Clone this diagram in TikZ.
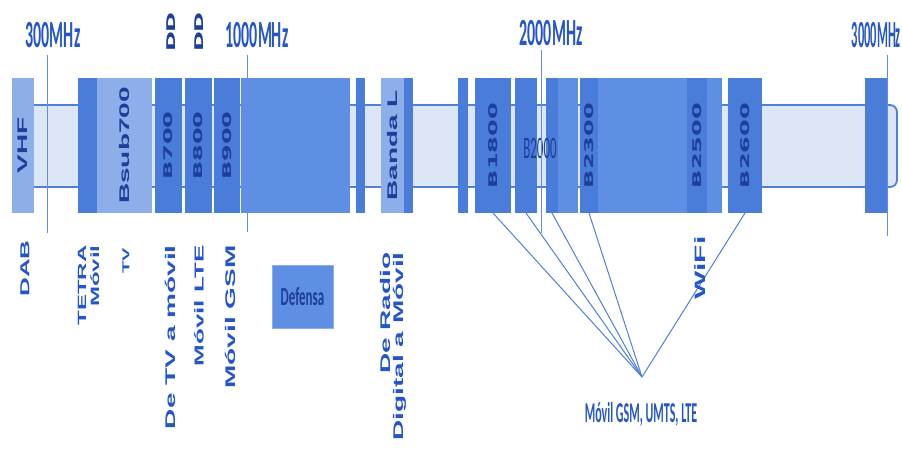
\documentclass[tikz,border=0pt]{standalone}
\usepackage{fontspec}
\setmainfont{Liberation Sans}
\newfontfamily\calibrifont{Carlito}
\newfontfamily\dejavufont{DejaVu Sans}
\usetikzlibrary{positioning}

\definecolor{banddark}{HTML}{4A7DD9}
\definecolor{bandmid}{HTML}{5F8FE2}
\definecolor{bandlight}{HTML}{8EAEEA}
\definecolor{tubefill}{HTML}{DCE6F7}
\definecolor{tubeline}{HTML}{4F80DB}
\definecolor{navy}{HTML}{1E3F99}
\definecolor{labelblue}{HTML}{2456C8}

\begin{document}
\begin{tikzpicture}[x=1pt, y=-1pt]

\tikzstyle{tube} = [rectangle, rounded corners=7pt, draw=tubeline, line width=1.8pt, fill=tubefill, minimum width=872pt, minimum height=82pt, inner sep=0]
\tikzstyle{band} = [rectangle, inner sep=0, outer sep=0, minimum height=135pt, fill=banddark]
\tikzstyle{freq} = [font=\calibrifont\bfseries\fontsize{16}{16}\selectfont, text=labelblue, yscale=2.4, inner sep=0]
\tikzstyle{inband} = [font=\dejavufont\bfseries\fontsize{12}{12}\selectfont, text=navy, rotate=90, xscale=2, inner sep=0]
\tikzstyle{inbandwide} = [font=\bfseries\fontsize{14}{14}\selectfont, text=navy, rotate=90, xscale=2, inner sep=0]
\tikzstyle{service} = [font=\bfseries\fontsize{14}{13}\selectfont, text=labelblue, rotate=90, xscale=2, inner sep=0, anchor=east, align=right]
\tikzstyle{marker} = [draw=bandmid, line width=0.8pt]
\tikzstyle{link} = [draw=tubeline, line width=1pt]

\useasboundingbox (0,0) rectangle (902,452);
\fill[white] (0,0) rectangle (902,452);

% spectrum bar
\node [tube] (spectrum) at (461,146) {};

% bands
\node [band, fill=bandlight, minimum width=22pt] (vhf) at (23,145.5) {};
\node [band, minimum width=19pt, right=44pt of vhf] (tetra) {};
\node [band, fill=bandlight, minimum width=55pt, right=0pt of tetra] (bsub) {};
\node [band, minimum width=27pt, right=3pt of bsub] (b700) {};
\node [band, minimum width=27pt, right=3pt of b700] (b800) {};
\node [band, minimum width=26pt, right=2pt of b800] (b900) {};
\node [band, fill=bandmid, minimum width=109pt, right=1pt of b900] (defband) {};
\node [band, minimum width=9pt, right=6pt of defband] (slot1) {};
\node [band, fill=bandlight, minimum width=23pt, right=16pt of slot1] (bandal) {};
\node [band, minimum width=9pt, right=0pt of bandal] (slot2) {};
\node [band, minimum width=10pt, right=45pt of slot2] (slot3) {};
\node [band, minimum width=36pt, right=7pt of slot3] (b1800) {};
\node [band, minimum width=22pt, right=4pt of b1800] (b2000) {};
\node [band, minimum width=12pt, right=9pt of b2000] (b2100) {};
\node [band, fill=bandmid, minimum width=20pt, right=0pt of b2100] (b2100up) {};
\node [band, minimum width=18pt, right=2pt of b2100up] (b2300) {};
\node [band, fill=bandmid, minimum width=89pt, right=0pt of b2300] (b2400) {};
\node [band, minimum width=20pt, right=0pt of b2400] (b2500) {};
\node [band, fill=bandmid, minimum width=15pt, right=0pt of b2500] (b2500up) {};
\node [band, minimum width=34pt, right=6pt of b2500up] (b2600) {};
\node [band, minimum width=22pt, right=103pt of b2600] (b3000) {};

% band names
\node [inbandwide] (vhftext) at (vhf) {VHF};
\node [inbandwide] (bsubtext) at (bsub) {Bsub700};
\node [inband] (b700text) at (b700) {B700};
\node [inband] (b800text) at (b800) {B800};
\node [inband] (b900text) at (b900) {B900};
\node [inbandwide] (bandaltext) at (bandal) {Banda L};
\node [inband] (b1800text) at (b1800) {B1800};
\node [font=\calibrifont\fontsize{13}{13}\selectfont, text=navy, yscale=2.4, inner sep=0] (b2000text) at (540,148) {B2000};
\node [inband] (b2300text) at (b2300) {B2300};
\node [inband] (b2500text) at (b2500) {B2500};
\node [inband] (b2600text) at (b2600) {B2600};
\node [inband] (dd1) at (171,32) {DD};
\node [inband] (dd2) at (199,32) {DD};

% frequencies
\node [freq] (f300) at (53,35) {300MHz};
\node [freq] (f1000) at (257,35) {1000MHz};
\node [freq] (f2000) at (551,33) {2000MHz};
\node [freq, anchor=east, xscale=0.78] (f3000) at (901,35) {3000MHz};

\coordinate (m300a) at (47,55);
\coordinate (m300b) at (47,233);
\coordinate (m1000a) at (247,55);
\coordinate (m1000b) at (247,232);
\coordinate (m2000a) at (541,50);
\coordinate (m2000b) at (541,233);
\coordinate (m3000a) at (887,55);
\coordinate (m3000b) at (887,236);

\path[marker] (m300a) -- (m300b);
\path[marker] (m1000a) -- (m1000b);
\path[marker] (m2000a) -- (m2000b);
\path[marker] (m3000a) -- (m3000b);

% services
\node [service, font=\bfseries\fontsize{13}{13}\selectfont] (dab) at (25,240) {DAB};
\node [service, font=\bfseries\fontsize{12}{13}\selectfont] (tetramovil) at (88.5,245) {TETRA\\Móvil};
\node [service, font=\bfseries\fontsize{10}{10}\selectfont] (tv) at (126,248) {TV};
\node [service] (tvmovil) at (170,245) {De TV a móvil};
\node [service, font=\bfseries\fontsize{13}{13}\selectfont] (lte) at (199,245) {Móvil LTE};
\node [service] (gsm) at (230,245) {Móvil GSM};
\node [service] (radio) at (393.5,252) {De Radio\\Digital a Móvil};

\node [draw=bandlight, fill=bandmid, line width=1pt, minimum width=61pt, minimum height=31.5pt, yscale=2, font=\calibrifont\bfseries\fontsize{13}{13}\selectfont, text=navy, inner sep=0] (defensa) at (302.5,296.5) {Defensa};

% mobile bands
\coordinate (hub) at (642,377);
\node [font=\calibrifont\bfseries\fontsize{12}{12}\selectfont, text=labelblue, yscale=2.4, inner sep=0] (movil) at (641,414) {Móvil GSM, UMTS, LTE};

\path[link] (b1800.south) -- (hub);
\path[link] (b2000.south) -- (hub);
\path[link] (b2100.south) -- (hub);
\path[link] (b2300.south) -- (hub);
\path[link] (b2600.south) -- (hub);

\node [service, anchor=center, font=\bfseries\fontsize{15}{15}\selectfont] (wifi) at (700,268) {WiFi};

\end{tikzpicture}
\end{document}
